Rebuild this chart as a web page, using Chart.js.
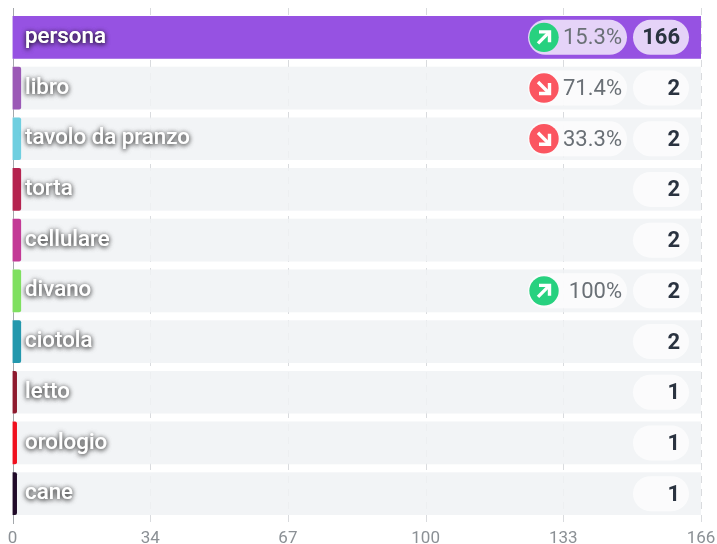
<!DOCTYPE html>
<html><head><meta charset="utf-8">
<style>html,body{margin:0;padding:0;background:#fff}canvas{display:block}</style>
<script src="https://cdn.jsdelivr.net/npm/chart.js@4"></script>
</head><body><canvas id="c" width="717" height="544"></canvas>
<script>
const categories=["persona","libro","tavolo da pranzo","torta","cellulare","divano","ciotola","letto","orologio","cane"];
const values=[166,2,2,2,2,2,2,1,1,1];
const changes=[15.3,-71.4,-33.3,null,null,100,null,null,null,null];
const barColors=["#9652e2","#9b59b6","#6fcfe0","#b5234f","#c33a96","#7fe060","#2398ad","#8e1a2e","#f0101e","#200a28"];
const trackValues=[166,166,166,166,166,166,166,166,166,166];
const tickValues=[0,33.2,66.4,99.6,132.8,166];
const tickLabels=["0","34","67","100","133","166"];

function rr(ctx,x,y,w,h,r){ctx.beginPath();ctx.roundRect(x,y,w,h,r);}

const gridPlugin={id:'grid',beforeDatasetsDraw(ch){
  const {ctx,chartArea:a,scales:{x}}=ch;
  ctx.save();
  tickValues.forEach((v,i)=>{
    const px=Math.round(x.getPixelForValue(v))+.5;
    ctx.beginPath();ctx.moveTo(px,a.top-4);ctx.lineTo(px,a.bottom+5);
    if(i===0){ctx.setLineDash([]);ctx.strokeStyle='#a4a8ac';}
    else{ctx.setLineDash([7,6]);ctx.strokeStyle='#d9dbde';}
    ctx.lineWidth=1;ctx.stroke();
  });
  ctx.restore();
}};

const labelPlugin={id:'labels',afterDatasetsDraw(ch){
  const {ctx,scales:{x,y}}=ch;
  ctx.save();
  categories.forEach((name,i)=>{
    const cy=y.getPixelForValue(i);
    const top=i===0;
    ctx.font='500 22.3px Roboto';ctx.textAlign='left';ctx.textBaseline='middle';
    ctx.shadowColor='rgba(0,0,0,.6)';ctx.shadowBlur=5;ctx.shadowOffsetX=0;ctx.shadowOffsetY=1;
    ctx.fillStyle='#fff';ctx.fillText(name,25,cy);ctx.fillText(name,25,cy);
    ctx.shadowColor='transparent';ctx.shadowBlur=0;ctx.shadowOffsetY=0;
    const pill=top?'rgba(255,255,255,.75)':'rgba(255,255,255,.7)';
    ctx.fillStyle=pill;rr(ctx,633,cy-17.5,56,35,17.5);ctx.fill();
    ctx.font='700 22px Roboto';ctx.textAlign='right';ctx.fillStyle='#2a3340';
    ctx.fillText(String(values[i]),680,cy+1.5);
    const c=changes[i];
    if(c!==null){
      ctx.fillStyle=pill;rr(ctx,528,cy-17.5,99,35,17.5);ctx.fill();
      ctx.font='400 22px Roboto';ctx.fillStyle='#6a7076';
      ctx.fillText(Math.abs(c)+'%',622,cy+1.5);
      const ix=544,up=c>0;
      ctx.fillStyle=up?'#27d17f':'#fb5560';
      ctx.beginPath();ctx.arc(ix,cy,14.7,0,Math.PI*2);ctx.fill();
      ctx.strokeStyle='#fff';ctx.lineWidth=3.4;ctx.lineCap='butt';ctx.lineJoin='miter';
      const d=up?-1:1;
      ctx.beginPath();ctx.moveTo(ix-6,cy-d*6);ctx.lineTo(ix+5,cy+d*5);ctx.stroke();
      ctx.beginPath();ctx.moveTo(ix-5,cy+d*5.5);ctx.lineTo(ix+5.5,cy+d*5.5);ctx.lineTo(ix+5.5,cy-d*5);ctx.stroke();
    }
  });
  ctx.restore();
}};

new Chart(document.getElementById('c'),{
  type:'bar',
  data:{labels:categories,datasets:[
    {data:values,backgroundColor:barColors,barThickness:42,borderRadius:ctx=>ctx.dataIndex===0?0:2,grouped:false,order:1},
    {data:trackValues,backgroundColor:'rgba(240,242,244,.85)',barThickness:42,grouped:false,order:2}
  ]},
  options:{
    indexAxis:'y',responsive:false,animation:false,
    layout:{padding:{left:12.5,right:16,top:12,bottom:0}},
    plugins:{legend:{display:false},tooltip:{enabled:false}},
    scales:{
      y:{display:false,grid:{display:false}},
      x:{min:0,max:166,position:'bottom',border:{display:false},grid:{display:false},
        afterBuildTicks(s){s.ticks=tickValues.map(v=>({value:v}));},
        afterFit(s){s.height=25;s.paddingRight=0;s.paddingLeft=0;},
        ticks:{autoSkip:false,maxRotation:0,padding:2,color:'#8b9095',font:{family:'Roboto',size:17},
          callback(v,i){return tickLabels[i];}}
      }
    }
  },
  plugins:[gridPlugin,labelPlugin]
});
</script></body></html>
